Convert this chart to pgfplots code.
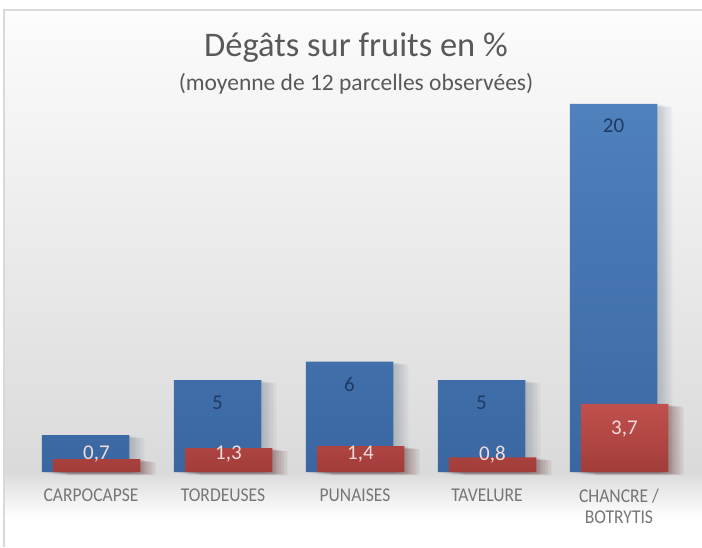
\documentclass[border=0pt]{standalone}
\usepackage{fontspec}
\setmainfont{Carlito}
\newfontfamily\tickfont[FakeStretch=0.9]{Carlito}
\usepackage{pgfplots}
\pgfplotsset{compat=1.18}
\usepackage{pgfplotstable}
\usetikzlibrary{backgrounds}

\definecolor{blueTop}{HTML}{4F81BD}
\definecolor{blueBot}{HTML}{3A67A2}
\definecolor{redTop}{HTML}{C0504D}
\definecolor{redBot}{HTML}{A23D3A}
\definecolor{titlegray}{HTML}{595959}
\definecolor{tickgray}{HTML}{767676}
\definecolor{bluelab}{HTML}{1F3A63}
\definecolor{redlab}{HTML}{F2DCDB}
\definecolor{bggray}{HTML}{DADADA}
\definecolor{bgtop}{HTML}{FCFCFC}
\definecolor{framegray}{HTML}{D9D9D9}

\tikzset{
  softshadow/.style={
    preaction={fill=black, fill opacity=#1, transform canvas={xshift=3pt, yshift=-1pt}},
    preaction={fill=black, fill opacity=#1, transform canvas={xshift=6pt, yshift=-1.5pt}},
    preaction={fill=black, fill opacity=#1, transform canvas={xshift=9pt, yshift=-2pt}},
    preaction={fill=black, fill opacity=#1, transform canvas={xshift=12pt, yshift=-2.5pt}},
    preaction={fill=black, fill opacity=#1, transform canvas={xshift=15pt, yshift=-3pt}},
  }
}

% series 1 (blue)
\pgfplotstableread{
x y
0 2
1 5
2 6
3 5
4 20
}\bluedata
\pgfplotstableread{
x ly lab
1 3.75 5
2 4.75 6
3 3.75 5
4 18.8 20
}\bluelabels
% series 2 (red)
\pgfplotstableread{
x y
0 0.7
1 1.3
2 1.4
3 0.8
4 3.7
}\reddata
\pgfplotstableread{
x ly lab
0 1.03 {0,7}
1 1.03 {1,3}
2 1.03 {1,4}
3 1.03 {0,8}
4 2.4 {3,7}
}\redlabels

\begin{document}
\begin{tikzpicture}[x=1pt,y=1pt]
\path[use as bounding box] (0,0) rectangle (702,547);
\begin{axis}[
  at={(25pt,75pt)}, anchor=south west,
  scale only axis, width=660pt, height=377.2pt,
  xmin=-0.5, xmax=4.5, ymin=0, ymax=20.5,
  hide y axis,
  axis x line*=bottom,
  x axis line style={draw=none},
  xtick={0,1,2,3,4},
  xticklabels={CARPOCAPSE,TORDEUSES,PUNAISES,TAVELURE,{CHANCRE /\\BOTRYTIS}},
  major tick length=0pt,
  xtick style={draw=none},
  xticklabel style={font=\tickfont\fontsize{19.5}{21}\selectfont, text=tickgray,
     align=center, anchor=north, inner sep=0pt, yshift=-17pt},
  clip=false,
]
\addplot[ybar, bar width=87.5pt, bar shift=-5.5pt, draw=none,
  top color=blueTop, bottom color=blueBot, softshadow=0.025]
  table[x=x,y=y]{\bluedata};
\addplot[ybar, bar width=87.5pt, bar shift=5.5pt, draw=none,
  top color=redTop, bottom color=redBot, softshadow=0.045]
  table[x=x,y=y]{\reddata};
\addplot[draw=none, mark=none, nodes near coords, point meta=explicit symbolic,
  nodes near coords align={center},
  every node near coord/.append style={anchor=center, xshift=-5.5pt, text=bluelab,
     font=\fontsize{21}{21}\selectfont, inner sep=0pt, text depth=0pt}]
  table[x=x,y=ly,meta=lab]{\bluelabels};
\addplot[draw=none, mark=none, nodes near coords, point meta=explicit symbolic,
  nodes near coords align={center},
  every node near coord/.append style={anchor=center, xshift=5.5pt, text=redlab,
     font=\fontsize{21}{21}\selectfont, inner sep=0pt, text depth=0pt}]
  table[x=x,y=ly,meta=lab]{\redlabels};
\end{axis}
\node[anchor=base, text=titlegray, font=\fontsize{34.5}{36}\selectfont] at (356,490) {Dégâts sur fruits en \%};
\node[anchor=base, text=titlegray, font=\fontsize{23.5}{25}\selectfont] at (356,456) {(moyenne de 12 parcelles observées)};
\begin{scope}[on background layer]
  \shade[top color=bgtop, bottom color=bggray] (4,75) rectangle (702,537);
  \shade[top color=bggray, bottom color=white] (4,30) rectangle (702,75);
  \fill[white] (4,0) rectangle (702,30);
  \draw[framegray, line width=1.5pt] (4,0) -- (4,537) -- (702,537);
\end{scope}
\end{tikzpicture}
\end{document}
